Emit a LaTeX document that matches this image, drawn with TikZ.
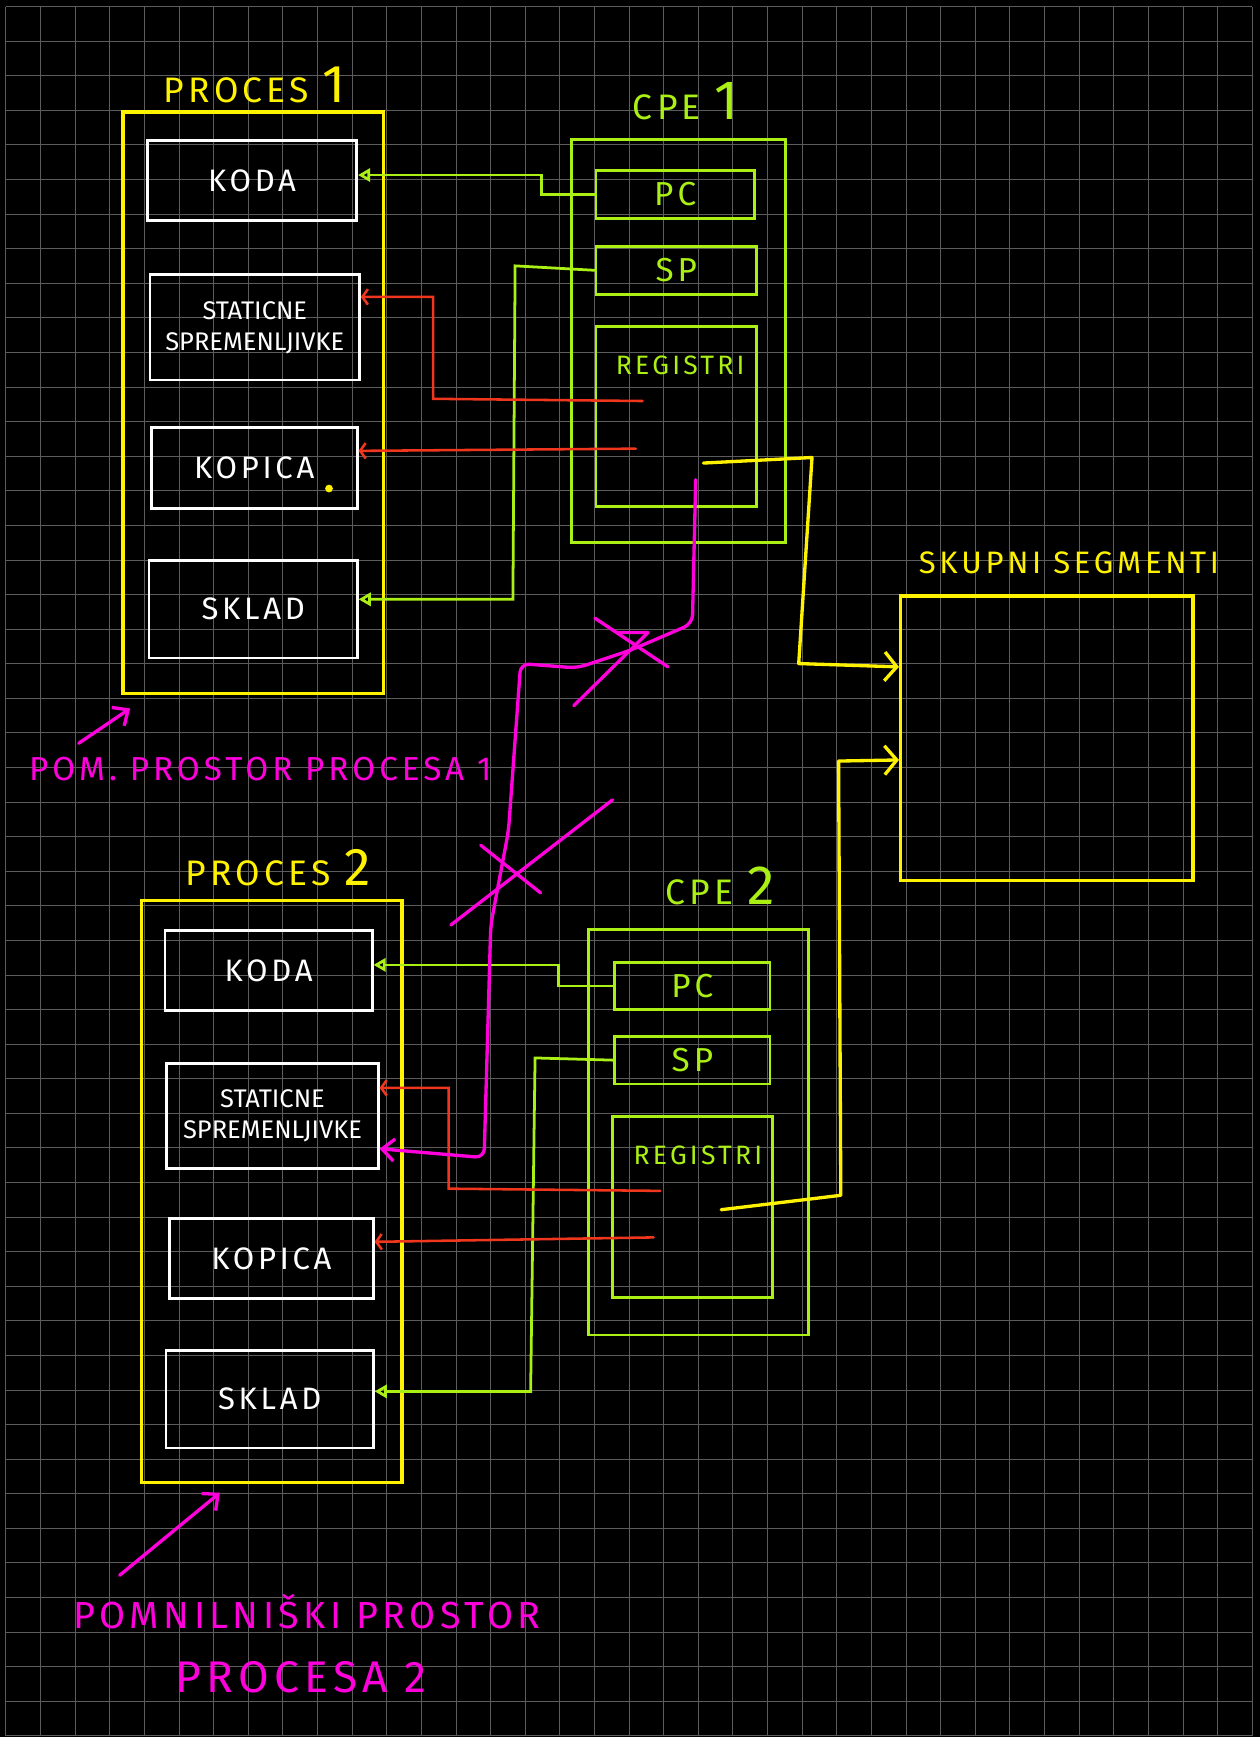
\documentclass[tikz,border=0pt]{standalone}
\usepackage{fontspec}
\setmainfont{Fira Sans}
\newfontfamily\hand[LetterSpace=12]{Fira Sans}
\usepackage{tikz}
\usetikzlibrary{arrows.meta, positioning}
\definecolor{hlyellow}{RGB}{255,242,0}
\definecolor{hlgreen}{RGB}{170,240,20}
\definecolor{hlred}{RGB}{240,55,30}
\definecolor{hlpink}{RGB}{255,0,220}
\definecolor{gridgray}{RGB}{92,92,92}
\tikzset{
    gridline/.style={draw=gridgray, line width=0.9pt},
    procbox/.style={rectangle, draw=hlyellow, line width=3pt, minimum width=235pt, minimum height=525pt},
    membox/.style={rectangle, draw=white, line width=2.4pt, text=white, align=center, inner sep=2pt, font=\hand\fontsize{28}{30}\selectfont},
    cpebox/.style={rectangle, draw=hlgreen, line width=2.5pt},
    regbox/.style={rectangle, draw=hlgreen, line width=2.5pt, text=hlgreen, font=\hand\fontsize{30}{32}\selectfont},
    ylabel/.style={text=hlyellow, font=\hand\fontsize{32}{34}\selectfont},
    glabel/.style={text=hlgreen, font=\hand\fontsize{32}{34}\selectfont},
    plabel/.style={text=hlpink, font=\hand\fontsize{30}{32}\selectfont},
    greenarrow/.style={draw=hlgreen, line width=2.5pt, line cap=round, -{Triangle[open, length=11pt, width=12pt]}},
    redarrow/.style={draw=hlred, line width=2.3pt, line cap=round, -{Straight Barb[length=5pt, width=14pt]}},
    yelarrow/.style={draw=hlyellow, line width=3pt, line cap=round, line join=round, -{Straight Barb[length=11pt, width=26pt]}},
    pinkarrow/.style={draw=hlpink, line width=3pt, line cap=round, line join=round, -{Straight Barb[length=11pt, width=20pt]}},
    pinkline/.style={draw=hlpink, line width=3pt, line cap=round, line join=round},
}
\begin{document}
\begin{tikzpicture}[x=1pt, y=-1pt]
    \useasboundingbox (0,0) rectangle (1137,1568);
    \fill[black] (0,0) rectangle (1137,1568);
    \foreach \i in {0,...,36} \draw[gridline] ({5.4+31.25*\i},6) -- ({5.4+31.25*\i},1567);
    \foreach \j in {0,...,50} \draw[gridline] (5.4,{6+31.22*\j}) -- (1130.4,{6+31.22*\j});

    \node[procbox] (proc1) at (228.5,363.5) {};
    \node[ylabel] (proc1lbl) at (230,77) {PROCES {\fontsize{48}{48}\selectfont 1}};
    \node[membox, minimum width=189pt, minimum height=72pt] (koda1) at (227.5,163) {KODA};
    \node[membox, minimum width=189pt, minimum height=95pt, font=\fontsize{23}{28}\selectfont] (stat1) at (230,295.5) {STATICNE\\SPREMENLJIVKE};
    \node[membox, minimum width=186pt, minimum height=73pt] (kop1) at (229.5,422.5) {KOPICA};
    \node[membox, minimum width=188pt, minimum height=88pt] (sklad1) at (228.5,550) {SKLAD};
    \fill[hlyellow] (297,441) circle (3.5);

    \node[cpebox, minimum width=193pt, minimum height=364pt] (cpe1) at (612.5,308) {};
    \node[glabel] (cpe1lbl) at (619,91) {CPE {\fontsize{50}{50}\selectfont 1}};
    \node[regbox, minimum width=143pt, minimum height=43pt] (pc1) at (609.5,175.5) {PC};
    \node[regbox, minimum width=145pt, minimum height=43pt] (sp1) at (610.5,244) {SP};
    \node[regbox, minimum width=145pt, minimum height=162pt] (reg1) at (610.5,376) {};
    \node[glabel, font=\hand\fontsize{24}{26}\selectfont] (reg1lbl) at (614,330) {REGISTRI};

    \node[procbox] (proc2) at (245.5,1075.5) {};
    \node[ylabel] (proc2lbl) at (251,783) {PROCES {\fontsize{48}{48}\selectfont 2}};
    \node[membox, minimum width=187pt, minimum height=72pt] (koda2) at (242.5,876) {KODA};
    \node[membox, minimum width=191pt, minimum height=95pt, font=\fontsize{23}{28}\selectfont] (stat2) at (246,1007.5) {STATICNE\\SPREMENLJIVKE};
    \node[membox, minimum width=184pt, minimum height=72pt] (kop2) at (245,1136) {KOPICA};
    \node[membox, minimum width=187pt, minimum height=88pt] (sklad2) at (243.5,1263) {SKLAD};

    \node[cpebox, minimum width=199pt, minimum height=366pt] (cpe2) at (630.5,1022) {};
    \node[glabel] (cpe2lbl) at (650,800) {CPE {\fontsize{50}{50}\selectfont 2}};
    \node[regbox, minimum width=140pt, minimum height=42pt] (pc2) at (625,890) {PC};
    \node[regbox, minimum width=140pt, minimum height=43pt] (sp2) at (625,957) {SP};
    \node[regbox, minimum width=144pt, minimum height=163pt] (reg2) at (625,1089.5) {};
    \node[glabel, font=\hand\fontsize{24}{26}\selectfont] (reg2lbl) at (630,1043) {REGISTRI};

    \node[rectangle, draw=hlyellow, line width=3pt, minimum width=264pt, minimum height=257pt] (skupni) at (945,666.5) {};
    \node[ylabel, font=\hand\fontsize{28}{30}\selectfont] (skupnilbl) at (965,508) {SKUPNI SEGMENTI};

    \node[plabel] (pom1) at (235,694) {POM. PROSTOR PROCESA 1};
    \node[plabel, font=\hand\fontsize{34}{36}\selectfont] (pom2a) at (277,1455) {POMNILNIŠKI PROSTOR};
    \node[plabel, font=\hand\fontsize{40}{42}\selectfont] (pom2b) at (272,1514) {PROCESA 2};

    \coordinate (r1a) at (580,362);
    \coordinate (r1b) at (574,405);
    \coordinate (r2a) at (596,1075);
    \coordinate (r2b) at (590,1117);
    \coordinate (y1) at (635,418);
    \coordinate (y2) at (651,1092);
    \coordinate (m1) at (628,433);
    \coordinate (pa1) at (71,671);
    \coordinate (pa2) at (108,1422);

    \draw[greenarrow] (pc1.west) -| (489,158) -- (koda1.east |- 0,158);
    \draw[greenarrow] (sp1.west) -- (465,240) -- (463,541) -- (sklad1.east |- 0,541);
    \draw[greenarrow] (pc2.west) -| (504,871) -- (koda2.east |- 0,871);
    \draw[greenarrow] (sp2.west) -- (483,955) -- (479,1256) -- (sklad2.east |- 0,1256);

    \draw[redarrow] (r1a) -- (391,360) -- (391,268) -- (stat1.east |- 0,268);
    \draw[redarrow] (r1b) -- (kop1.east |- 0,407);
    \draw[redarrow] (r2a) -- (405,1073) -- (405,982) -- (stat2.east |- 0,982);
    \draw[redarrow] (r2b) -- (kop2.east |- 0,1121);

    \draw[yelarrow] (y1) -- (733,413) -- (721,599) -- (skupni.west |- 0,602);
    \draw[yelarrow] (y2) -- (759,1079) -- (757,687) -- (skupni.west |- 0,686);

    \draw[pinkarrow, rounded corners=8pt] (m1) -- (625,563) -- (569,587) -- (521,603) -- (470,599) -- (459,750) -- (443,835) -- (437,1045) -- (stat2.east |- 0,1037);
    \draw[pinkline] (537,558) -- (603,602);
    \draw[pinkline] (557,571) -- (585,571) -- (518,637);
    \draw[pinkline] (434,763) -- (488,806);
    \draw[pinkline] (407,835) -- (553,722);

    \draw[pinkarrow] (pa1) -- ([xshift=8pt, yshift=-12pt]proc1.south west);
    \draw[pinkarrow] (pa2) -- ([xshift=72pt, yshift=-8pt]proc2.south west);
\end{tikzpicture}
\end{document}
